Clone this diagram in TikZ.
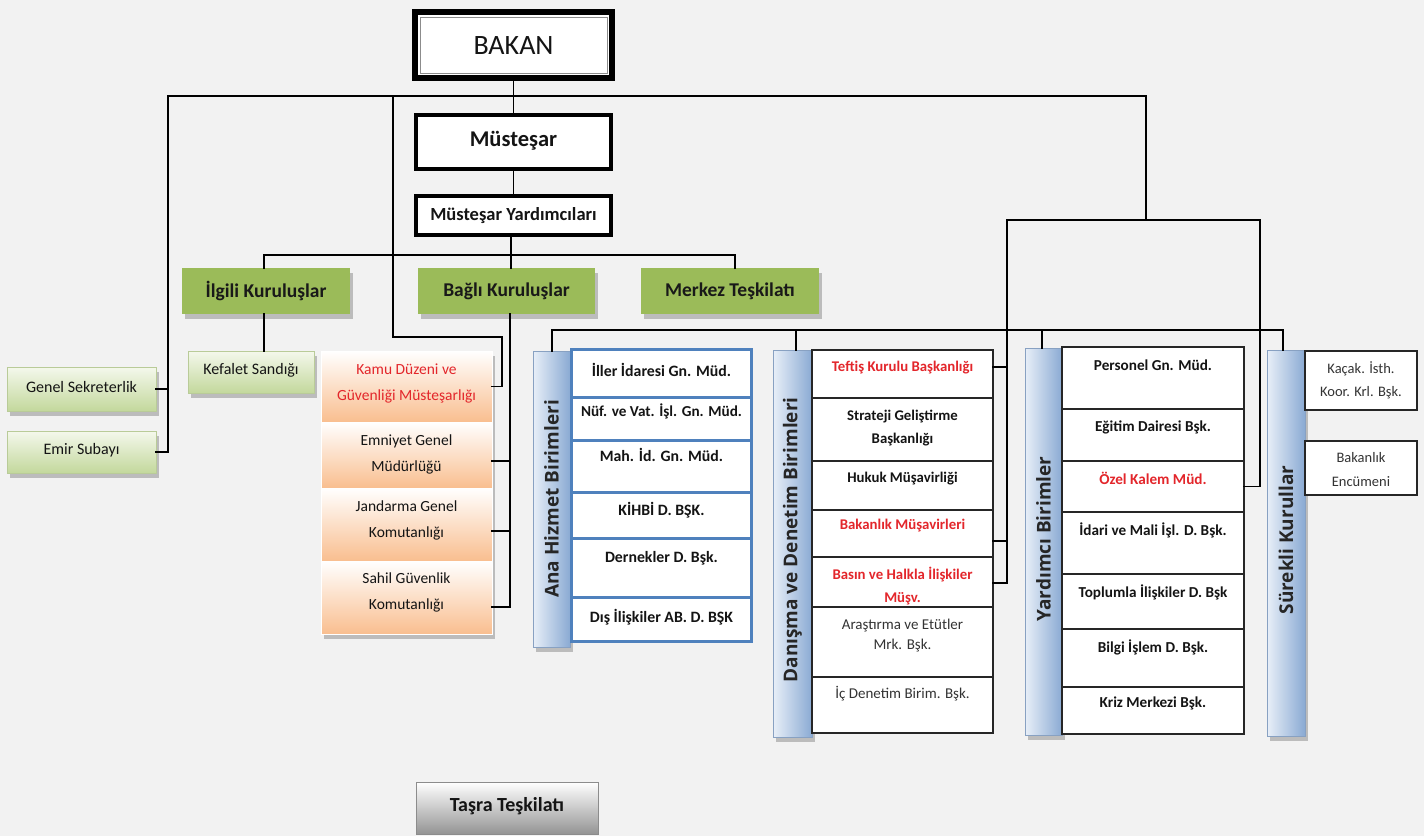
\documentclass[tikz,border=0pt]{standalone}
\usepackage{fontspec}
\setmainfont{Carlito}
\newfontfamily\barfont{Open Sans}
\usetikzlibrary{shadows,calc}
\definecolor{bg}{HTML}{F2F2F2}
\definecolor{grn}{HTML}{9BBB59}
\definecolor{lgtop}{HTML}{F4F8EC}
\definecolor{lgbot}{HTML}{C3D89C}
\definecolor{peach}{HTML}{F9BE8F}
\definecolor{barL}{HTML}{E8EFF8}
\definecolor{barR}{HTML}{8AAAD3}
\definecolor{blu}{HTML}{4F81BD}
\definecolor{myred}{HTML}{E3262B}
\definecolor{txt}{HTML}{141414}
\definecolor{gtxt}{HTML}{333333}
\newcommand\fs[2]{\fontsize{#1}{#2}\selectfont}
\newcommand\bx[6]{\node[#6,inner sep=0pt,outer sep=0pt,minimum width={(#4-#2)*1pt},minimum height={(#5-#3)*1pt}] (#1) at ({(#2+#4)/2},{(#3+#5)/2}) {};}
\newcommand\tx[5]{\node[#4] (#1) at (#2,#3) {#5};}
\tikzset{
  conn/.style={draw=black, line width=1.4pt, line cap=rect},
  shd/.style={drop shadow={shadow xshift=3pt,shadow yshift=-5pt,fill=black,opacity=0.22}},
  bakanbox/.style={draw=black, line width=6pt, fill=white},
  musbox/.style={draw=black, line width=4pt, fill=white},
  greenhead/.style={fill=grn, shd},
  lgreen/.style={top color=lgtop, bottom color=lgbot, draw=lgbot!85!gray, line width=0.6pt, shd},
  peachstack/.style={fill=peach, draw=peach!80!gray, line width=0.6pt, shd},
  peachcell/.style={top color=white, bottom color=peach, draw=white, line width=1pt},
  bar/.style={left color=barL, right color=barR, draw=barR!80!gray, line width=0.5pt, shd},
  anacell/.style={draw=blu, line width=3pt, fill=white},
  cellbox/.style={draw=black!85, line width=1.3pt, fill=white},
  tasrabox/.style={top color=white, bottom color=black!42, draw=black!45, line width=1pt},
  lab/.style={text=txt, align=center, inner sep=0pt},
  al/.style={lab, font=\bfseries\fs{15.8}{23}},
  bl/.style={lab, font=\bfseries\fs{14.8}{23}},
  yl/.style={lab, font=\bfseries\fs{15.2}{23}},
  rl/.style={lab, text=gtxt, font=\fs{15}{20}},
  redl/.style={lab, text=myred, font=\bfseries\fs{14.8}{23}},
  bartext/.style={lab, rotate=90, font=\barfont\bfseries\fs{19}{22}, text=black!85},
  headtext/.style={lab, font=\bfseries\fs{19.5}{22}, text=black!90}
}
\begin{document}
\begin{tikzpicture}[x=1pt,y=-1pt]
\fill[bg] (0,0) rectangle (1424,836);
\useasboundingbox (0,0) rectangle (1424,836);

% ---- top boxes
\bx{bakan}{415}{12}{612}{78}{bakanbox}
\draw[black!45, line width=0.6pt] (420,17) rectangle (607,73);
\tx{bakant}{513.5}{46}{lab, font=\fs{28}{30}}{BAKAN}
\bx{must}{416}{115}{611}{169}{musbox}
\tx{mustt}{513.5}{141}{lab, font=\bfseries\fs{22.5}{26}}{Müsteşar}
\bx{myard}{416}{196}{611}{235}{musbox}
\tx{myardt}{513.5}{216}{lab, font=\bfseries\fs{18.5}{22}}{Müsteşar Yardımcıları}

% ---- green headings
\bx{ilgili}{182}{268}{350}{314}{greenhead}
\tx{ilgilit}{266}{291}{headtext}{İlgili Kuruluşlar}
\bx{bagli}{418}{268}{595}{314}{greenhead}
\tx{baglit}{506.5}{291}{headtext}{Bağlı Kuruluşlar}
\bx{merkez}{641}{268}{819}{314}{greenhead}
\tx{merkezt}{730}{291}{headtext}{Merkez Teşkilatı}

% ---- left light green boxes
\bx{gensek}{7}{367}{156}{411}{lgreen}
\tx{gensekt}{81.5}{387}{lab, font=\fs{16}{18}}{Genel Sekreterlik}
\bx{emir}{7}{431}{156}{473}{lgreen}
\tx{emirt}{81.5}{450}{lab, font=\fs{16}{18}}{Emir Subayı}
\bx{kefalet}{188}{351}{314}{393}{lgreen}
\tx{kefalett}{251}{370}{lab, font=\fs{16}{18}}{Kefalet Sandığı}

% ---- Kamu stack
\bx{kamustack}{321}{351}{492}{634}{peachstack}
\bx{kamu}{321}{351}{492}{422}{peachcell}
\bx{emniyet}{321}{422}{492}{488}{peachcell}
\bx{jandarma}{321}{488}{492}{561}{peachcell}
\bx{sahil}{321}{561}{492}{634}{peachcell}
\tx{kamut}{406.5}{383}{lab, text=myred, font=\fs{15.5}{26}}{Kamu Düzeni ve\\Güvenliği Müsteşarlığı}
\tx{emniyett}{406.5}{454}{lab, font=\fs{15.5}{26}}{Emniyet Genel\\Müdürlüğü}
\tx{jandarmat}{406.5}{520}{lab, font=\fs{15.5}{26}}{Jandarma Genel\\Komutanlığı}
\tx{sahilt}{406.5}{592}{lab, font=\fs{15.5}{26}}{Sahil Güvenlik\\Komutanlığı}

% ---- Ana Hizmet Birimleri
\bx{ana}{533}{351}{570}{647}{bar}
\tx{anat}{551.5}{499}{bartext}{Ana Hizmet Birimleri}
\bx{a1}{571.5}{349.5}{751.5}{397}{anacell}
\bx{a2}{571.5}{397}{751.5}{440}{anacell}
\bx{a3}{571.5}{440}{751.5}{492}{anacell}
\bx{a4}{571.5}{492}{751.5}{538}{anacell}
\bx{a5}{571.5}{538}{751.5}{597}{anacell}
\bx{a6}{571.5}{597}{751.5}{641.5}{anacell}
\tx{a1t}{661.5}{370}{al}{İller İdaresi Gn. Müd.}
\tx{a2t}{661.5}{411}{lab, font=\bfseries\fs{15.2}{23}}{Nüf. ve Vat. İşl. Gn. Müd.}
\tx{a3t}{661.5}{455}{al}{Mah. İd. Gn. Müd.}
\tx{a4t}{661.5}{510}{al}{KİHBİ D. BŞK.}
\tx{a5t}{661.5}{558}{al}{Dernekler D. Bşk.}
\tx{a6t}{661.5}{617}{al}{Dış İlişkiler AB. D. BŞK}

% ---- Danışma ve Denetim Birimleri
\bx{dan}{773}{350}{812}{737}{bar}
\tx{dant}{792.5}{540}{bartext}{Danışma ve Denetim Birimleri}
\bx{d1}{812}{350}{993}{398}{cellbox}
\bx{d2}{812}{398}{993}{461}{cellbox}
\bx{d3}{812}{461}{993}{510}{cellbox}
\bx{d4}{812}{510}{993}{557}{cellbox}
\bx{d5}{812}{557}{993}{607}{cellbox}
\bx{d6}{812}{607}{993}{677}{cellbox}
\bx{d7}{812}{677}{993}{733}{cellbox}
\tx{d1t}{902.5}{368}{redl}{Teftiş Kurulu Başkanlığı}
\tx{d2t}{902.5}{428}{bl}{Strateji Geliştirme\\Başkanlığı}
\tx{d3t}{902.5}{479}{bl}{Hukuk Müşavirliği}
\tx{d4t}{902.5}{526}{redl}{Bakanlık Müşavirleri}
\tx{d5t}{902.5}{586}{redl}{Basın ve Halkla İlişkiler\\Müşv.}
\tx{d6t}{902.5}{636}{rl}{Araştırma ve Etütler\\Mrk. Bşk.}
\tx{d7t}{902.5}{694}{rl}{İç Denetim Birim. Bşk.}

% ---- Yardımcı Birimler
\bx{yard}{1025}{348}{1062}{735}{bar}
\tx{yardt}{1043.5}{539}{bartext}{Yardımcı Birimler}
\bx{y1}{1062}{347}{1244}{409}{cellbox}
\bx{y2}{1062}{409}{1244}{461}{cellbox}
\bx{y3}{1062}{461}{1244}{512}{cellbox}
\bx{y4}{1062}{512}{1244}{574}{cellbox}
\bx{y5}{1062}{574}{1244}{629}{cellbox}
\bx{y6}{1062}{629}{1244}{687}{cellbox}
\bx{y7}{1062}{687}{1244}{734}{cellbox}
\tx{y1t}{1153}{365}{yl}{Personel Gn. Müd.}
\tx{y2t}{1153}{427}{yl}{Eğitim Dairesi Bşk.}
\tx{y3t}{1153}{478}{lab, text=myred, font=\bfseries\fs{15.2}{23}}{Özel Kalem Müd.}
\tx{y4t}{1153}{530}{yl}{İdari ve Mali İşl. D. Bşk.}
\tx{y5t}{1153}{592}{yl}{Toplumla İlişkiler D. Bşk}
\tx{y6t}{1153}{647}{yl}{Bilgi İşlem D. Bşk.}
\tx{y7t}{1153}{703}{yl}{Kriz Merkezi Bşk.}

% ---- Sürekli Kurullar
\bx{surekli}{1267}{350}{1305}{736}{bar}
\tx{surekt}{1286}{540}{bartext}{Sürekli Kurullar}
\bx{kacak}{1305}{351}{1417}{410}{cellbox}
\tx{kacakt}{1361}{380}{lab, text=gtxt, font=\fs{14.5}{23}}{Kaçak. İsth.\\Koor. Krl. Bşk.}
\bx{encumen}{1305}{441}{1417}{495}{cellbox}
\tx{encument}{1361}{470}{lab, text=gtxt, font=\fs{14.5}{24}}{Bakanlık\\Encümeni}

% ---- Taşra
\bx{tasra}{416}{782}{598}{834}{tasrabox}
\tx{tasrat}{507}{806}{lab, font=\bfseries\fs{20}{22}}{Taşra Teşkilatı}

% ---- connectors
\coordinate (busL) at (168,96);
\coordinate (busM) at (393,96);
\coordinate (busR) at (1146,96);
\coordinate (busR2) at (1146,220);
\coordinate (rbL) at (1007,220);
\coordinate (rbR) at (1260,220);
\coordinate (kbus) at (511,255);
\coordinate (kbusL) at (264,255);
\coordinate (kbusR) at (735,255);
\coordinate (bbusL) at (552,330);
\coordinate (bbusR) at (1283,330);
\coordinate (kamuJ) at (502,337);

\draw[conn] (bakan.south) -- (must.north);
\draw[conn] (must.south) -- (myard.north);
\draw[conn] (busL) -- (busR) -- (busR2);
\draw[conn] (busL) |- (emir.east);
\draw[conn] (gensek.east) -- (gensek.east -| busL);
\draw[conn] (busM) |- (kamuJ) |- (kamu.east);
\draw[conn] (rbL) -- (rbR);
\draw[conn] (rbL) -- (1007,583) -- (d5.east |- 0,583);
\draw[conn] (d1.east |- 0,367) -- (1007,367);
\draw[conn] (d4.east |- 0,541) -- (1007,541);
\draw[conn] (rbR) |- (y3.east);
\draw[conn] (myard.south -| kbus) -- (kbus);
\draw[conn] (kbusL) -- (kbusR);
\draw[conn] (kbusL) -- (kbusL |- ilgili.north);
\draw[conn] (kbus) -- (kbus |- bagli.north);
\draw[conn] (kbusR) -- (kbusR |- merkez.north);
\draw[conn] (ilgili.south -| kbusL) -- (kefalet.north -| kbusL);
\draw[conn] (bagli.south -| 510,0) -- (510,607) -- (sahil.east |- 0,607);
\draw[conn] (emniyet.east |- 0,461) -- (510,461);
\draw[conn] (jandarma.east |- 0,531) -- (510,531);
\draw[conn] (bbusL) -- (bbusR);
\draw[conn] (bbusL) -- (bbusL |- ana.north);
\draw[conn] (796,330) -- (796,330 |- dan.north);
\draw[conn] (1042,330) -- (1042,330 |- yard.north);
\draw[conn] (bbusR) -- (bbusR |- surekli.north);
\end{tikzpicture}
\end{document}
